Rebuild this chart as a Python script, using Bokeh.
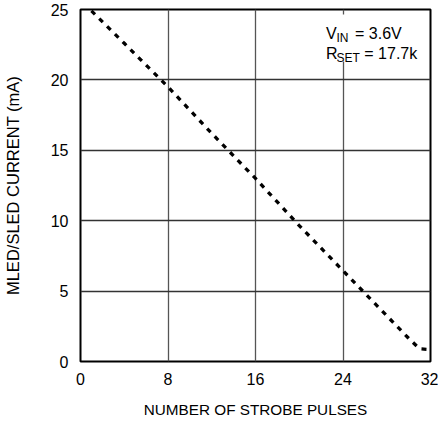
from bokeh.plotting import figure
from bokeh.models import Range1d, FixedTicker, Label, BoxAnnotation
from bokeh.embed import file_html
from bokeh.resources import INLINE

# data
pulses = [1, 4, 8, 12, 16, 20, 24, 28, 30, 31, 32]
current_ma = [24.9, 22.6, 19.5, 16.2, 13.0, 9.65, 6.45, 3.25, 1.65, 0.9, 0.85]
x_ticks = [0, 8, 16, 24, 32]
y_ticks = [0, 5, 10, 15, 20, 25]

FONT = "Liberation Sans"

p = figure(width=438, height=421, output_backend="svg", toolbar_location=None,
           x_range=Range1d(0, 32), y_range=Range1d(0, 25),
           min_border_left=78, min_border_right=8, min_border_top=9, min_border_bottom=60)

p.outline_line_color = "black"
p.outline_line_width = 2
p.background_fill_color = "white"
p.border_fill_color = "white"

for ax in (p.xaxis[0], p.yaxis[0]):
    ax.axis_line_color = None
    ax.major_tick_line_color = None
    ax.minor_tick_line_color = None
    ax.major_tick_in = 0
    ax.major_tick_out = 0
    ax.minor_tick_in = 0
    ax.minor_tick_out = 0
    ax.major_label_text_font = FONT
    ax.major_label_text_font_size = "16px"
    ax.major_label_text_color = "black"
    ax.axis_label_text_font = FONT
    ax.axis_label_text_font_style = "normal"
    ax.axis_label_text_color = "black"

p.xaxis.axis_label_text_font_size = "15.3px"
p.yaxis.axis_label_text_font_size = "16.5px"
p.xaxis.ticker = FixedTicker(ticks=x_ticks)
p.yaxis.ticker = FixedTicker(ticks=y_ticks)
p.xaxis.axis_label = "NUMBER OF STROBE PULSES"
p.yaxis.axis_label = "MLED/SLED CURRENT (mA)"
p.xaxis.major_label_standoff = 11
p.yaxis.major_label_standoff = 12
p.xaxis.axis_label_standoff = 13
p.yaxis.axis_label_standoff = 26

p.xgrid.grid_line_color = "#555555"
p.ygrid.grid_line_color = "#333333"
p.xgrid.grid_line_width = 1.3
p.ygrid.grid_line_width = 1.3

p.line(pulses, current_ma, line_color="black", line_width=3.3, line_dash="5 6")

# condition annotation with white backing
p.add_layout(BoxAnnotation(left=21.8, right=31.5, bottom=21.3, top=24.65,
                           fill_color="white", fill_alpha=1.0, line_color=None))

def lab(x, y, t, size):
    p.add_layout(Label(x=x, y=y, text=t, text_align="left", text_baseline="alphabetic",
                       text_font=FONT, text_font_size=size, text_color="black"))

lab(22.45, 23.3, "V", "16px")
lab(23.4, 23.0, "IN", "12px")
lab(25.1, 23.3, "= 3.6V", "16px")
lab(22.45, 21.85, "R", "16px")
lab(23.4, 21.55, "SET", "12px")
lab(25.95, 21.85, "= 17.7k", "16px")

open("out.html", "w").write(file_html(p, INLINE))
